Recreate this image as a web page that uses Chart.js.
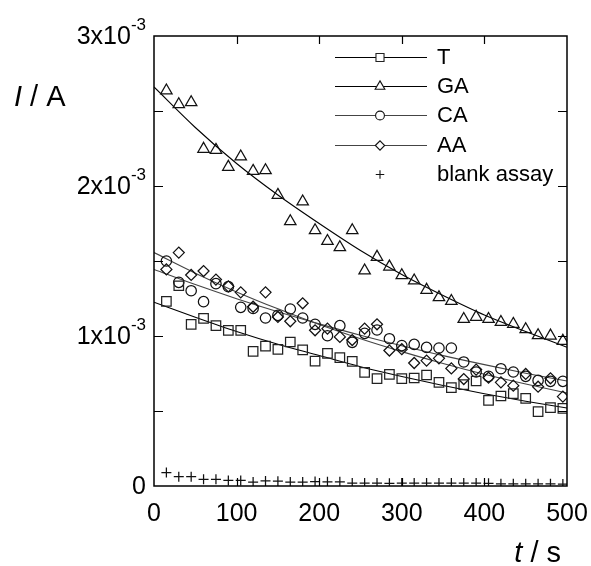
<!DOCTYPE html>
<html>
<head>
<meta charset="utf-8">
<script src="https://cdn.jsdelivr.net/npm/chart.js@4.4.1/dist/chart.umd.min.js"></script>
<style>
html,body{margin:0;padding:0;background:#fff;}
#wrap{width:591px;height:566px;}
canvas{display:block;}
</style>
</head>
<body>
<div id="wrap"><canvas id="c" width="591" height="566"></canvas></div>
<script>
// ---- data (currents in units of 1e-3 A) ----
const SCALE = 1e-3;
const times = [15,30,45,60,75,90,105,120,135,150,165,180,195,210,225,240,255,270,285,300,315,330,345,360,375,390,405,420,435,450,465,480,495];
const valuesT = [1.231,1.335,1.078,1.118,1.069,1.038,1.038,0.898,0.933,0.911,0.960,0.907,0.833,0.884,0.856,0.831,0.758,0.716,0.744,0.716,0.720,0.740,0.691,0.656,0.676,0.700,0.571,0.600,0.616,0.584,0.496,0.522,0.518];
const valuesGA = [2.636,2.544,2.558,2.247,2.240,2.127,2.196,2.100,2.104,1.940,1.764,1.896,1.704,1.633,1.591,1.704,1.436,1.527,1.462,1.404,1.369,1.307,1.258,1.233,1.113,1.127,1.113,1.093,1.080,1.044,1.004,1.002,0.967];
const valuesCA = [1.500,1.358,1.302,1.229,1.349,1.329,1.191,1.184,1.120,1.138,1.180,1.120,1.078,1.002,1.069,0.958,1.018,1.040,0.982,0.936,0.944,0.924,0.920,0.920,0.827,0.760,0.731,0.782,0.760,0.731,0.704,0.698,0.698];
const valuesAA = [1.444,1.556,1.407,1.433,1.376,1.331,1.291,1.195,1.291,1.127,1.098,1.218,1.038,1.049,0.994,0.973,1.049,1.078,0.903,0.912,0.820,0.836,0.851,0.784,0.713,0.776,0.722,0.691,0.669,0.747,0.662,0.718,0.596];
const valuesBlank = [0.090,0.062,0.062,0.045,0.045,0.037,0.037,0.026,0.034,0.032,0.026,0.026,0.030,0.028,0.028,0.020,0.020,0.020,0.018,0.020,0.020,0.020,0.020,0.020,0.020,0.020,0.018,0.015,0.015,0.015,0.015,0.015,0.013];

// fitted curves
const fitTimes = [0,50,100,150,200,250,300,350,400,450,500];
const fitT  = [1.225,1.125,1.030,0.945,0.870,0.795,0.730,0.670,0.615,0.565,0.520];
const fitGA = [2.660,2.390,2.150,1.940,1.750,1.570,1.410,1.270,1.140,1.030,0.925];
const fitCA = [1.444,1.343,1.249,1.162,1.081,1.005,0.935,0.869,0.809,0.752,0.700];
const fitAA = [1.556,1.419,1.294,1.181,1.077,0.982,0.896,0.817,0.745,0.680,0.620];

const seriesNames = ['T','GA','CA','AA','blank assay'];
const xTickStep = 100;
const yTickValues = [0,1,2,3];
const yTickMantissas = ['0','1x10','2x10','3x10'];
const yTickExponents = ['','-3','-3','-3'];
const xTitleItalic = 't', xTitleRest = ' / s';
const yTitleItalic = 'I', yTitleRest = ' / A';

const FONT = '"Liberation Sans", Arial, Helvetica, sans-serif';

function pts(xs, ys){ return xs.map((t,i)=>({x:t, y:ys[i]*SCALE})); }

const markerStyles = [
  {style:'rect', r:6.7, color:'#222'},
  {style:'triangle', r:6.6, color:'#111'},
  {style:'circle', r:5.2, color:'#111'},
  {style:'rectRot', r:5.5, color:'#111'},
  {style:'cross', r:5.0, color:'#111'}
];
const lineColors = ['#000','#000','#444','#444', null];
const seriesValues = [valuesT, valuesGA, valuesCA, valuesAA, valuesBlank];
const fitValues = [fitT, fitGA, fitCA, fitAA];

const datasets = [];
fitValues.forEach((f,i)=>{
  datasets.push({
    label: seriesNames[i]+' fit', data: pts(fitTimes, f), showLine:true,
    borderColor: lineColors[i], borderWidth:1.1, pointRadius:0, fill:false,
    cubicInterpolationMode:'monotone', order: 2
  });
});
seriesValues.forEach((v,i)=>{
  const m = markerStyles[i];
  datasets.push({
    label: seriesNames[i], data: pts(times, v), showLine:false,
    pointStyle: m.style, pointRadius: m.r, pointBorderColor: m.color,
    pointBackgroundColor:'rgba(0,0,0,0)', pointBorderWidth:1.25, order: 1
  });
});

const decor = {
  id:'decor',
  afterDraw(chart){
    const {ctx, chartArea:a, scales:{x, y}} = chart;
    ctx.save();
    // frame
    ctx.strokeStyle = '#000';
    ctx.lineWidth = 1.5;
    ctx.strokeRect(a.left, a.top, a.right-a.left, a.bottom-a.top);
    // inner ticks
    ctx.lineWidth = 1.2;
    ctx.beginPath();
    y.ticks.forEach(t=>{
      if (t.value <= y.min || t.value >= y.max) return;
      const py = Math.round(y.getPixelForValue(t.value)) + 0.5;
      ctx.moveTo(a.left, py); ctx.lineTo(a.left+9, py);
      ctx.moveTo(a.right, py); ctx.lineTo(a.right-9, py);
    });
    x.ticks.forEach(t=>{
      if (t.value <= x.min || t.value >= x.max) return;
      const px = Math.round(x.getPixelForValue(t.value)) + 0.5;
      ctx.moveTo(px, a.bottom); ctx.lineTo(px, a.bottom-8);
      ctx.moveTo(px, a.top); ctx.lineTo(px, a.top+8);
    });
    ctx.stroke();
    // y labels with superscripts
    ctx.fillStyle = '#000';
    ctx.textBaseline = 'alphabetic';
    ctx.textAlign = 'right';
    yTickValues.forEach((v,i)=>{
      const py = y.getPixelForValue(v*SCALE);
      const right = a.left - 8;
      let supW = 0;
      if (yTickExponents[i]) {
        ctx.font = '17px ' + FONT;
        supW = ctx.measureText(yTickExponents[i]).width;
        ctx.fillText(yTickExponents[i], right, py - 6);
      }
      ctx.font = '25px ' + FONT;
      ctx.fillText(yTickMantissas[i], right - supW, py + 8);
    });
    // axis titles
    ctx.textAlign = 'left';
    ctx.font = 'italic 29px ' + FONT;
    const wI = ctx.measureText(yTitleItalic).width;
    ctx.fillText(yTitleItalic, 14, 106);
    ctx.font = '29px ' + FONT;
    ctx.fillText(yTitleRest, 14 + wI, 106);
    ctx.font = 'italic 29px ' + FONT;
    const wt = ctx.measureText(xTitleItalic).width;
    ctx.font = '29px ' + FONT;
    const ws = ctx.measureText(xTitleRest).width;
    const sx = 561 - wt - ws;
    ctx.font = 'italic 29px ' + FONT;
    ctx.fillText(xTitleItalic, sx, 562);
    ctx.font = '29px ' + FONT;
    ctx.fillText(xTitleRest, sx + wt, 562);
    // legend
    const legY0 = 57, legDY = 29.2;
    ctx.font = '22px ' + FONT;
    ctx.textBaseline = 'middle';
    seriesNames.forEach((name,i)=>{
      const ly = legY0 + i*legDY;
      if (lineColors[i]) {
        ctx.strokeStyle = lineColors[i];
        ctx.lineWidth = 1.1;
        ctx.beginPath(); ctx.moveTo(335, Math.round(ly)+0.5); ctx.lineTo(427, Math.round(ly)+0.5); ctx.stroke();
      }
      const m = markerStyles[i];
      ctx.strokeStyle = m.color;
      ctx.fillStyle = '#fff';
      ctx.lineWidth = 1.1;
      Chart.helpers.drawPoint(ctx, {pointStyle:m.style, radius:m.r*0.85, rotation:0, borderWidth:1.1}, 380, Math.round(ly)+0.5);
      ctx.fillStyle = '#000';
      ctx.fillText(name, 437, ly + 1);
    });
    ctx.restore();
  }
};

new Chart(document.getElementById('c'), {
  type:'scatter',
  data:{datasets},
  options:{
    responsive:false, animation:false, devicePixelRatio:1,
    layout:{padding:{left:0, right:24, top:36, bottom:0}},
    plugins:{legend:{display:false}, tooltip:{enabled:false}},
    scales:{
      x:{
        type:'linear', min:0, max:500, position:'bottom',
        afterFit(s){ s.height = 80; s.paddingLeft = 0; s.paddingRight = 0; },
        ticks:{stepSize:xTickStep, color:'#000', padding:13, font:{family:FONT, size:25}, maxRotation:0,
               callback:v=>String(v)},
        grid:{display:false, drawTicks:false}, border:{display:false}
      },
      y:{
        type:'linear', min:0, max:3*SCALE,
        afterFit(s){ s.width = 154; s.paddingTop = 0; s.paddingBottom = 0; },
        ticks:{stepSize:0.5*SCALE, display:false},
        grid:{display:false, drawTicks:false}, border:{display:false}
      }
    }
  },
  plugins:[decor]
});
</script>
</body>
</html>
